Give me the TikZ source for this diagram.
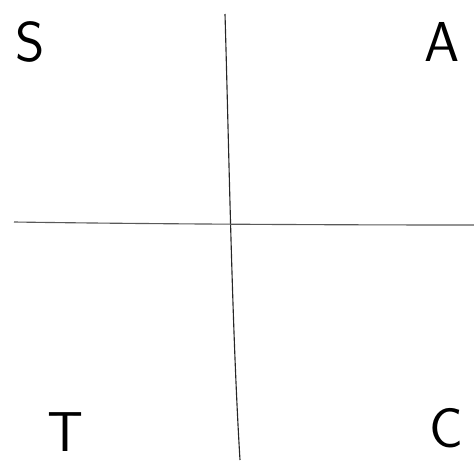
\documentclass[tikz,border=0pt]{standalone}
\begin{document}
\begin{tikzpicture}[
    x=0.025cm, y=-0.025cm,
    axis/.style={line width=0.8pt, draw=black!85},
    lab/.style={inner sep=0pt, font=\fontsize{40}{40}\sffamily\selectfont}
]
\useasboundingbox (0,0) rectangle (474,462);

\coordinate (vtop) at (225,14);
\coordinate (vbot) at (240,460);
\coordinate (hleft) at (14,222);
\coordinate (hright) at (474,225);

\draw[axis] (vtop) .. controls (229,150) and (232,330) .. (vbot);
\draw[axis, draw=black!65] (hleft) .. controls (150,224) and (330,225) .. (hright);

\node[lab] (s) at (30,42) {S};
\node[lab] (a) at (442,42) {A};
\node[lab] (t) at (66,432) {T};
\node[lab] (c) at (446,428) {C};
\end{tikzpicture}
\end{document}
